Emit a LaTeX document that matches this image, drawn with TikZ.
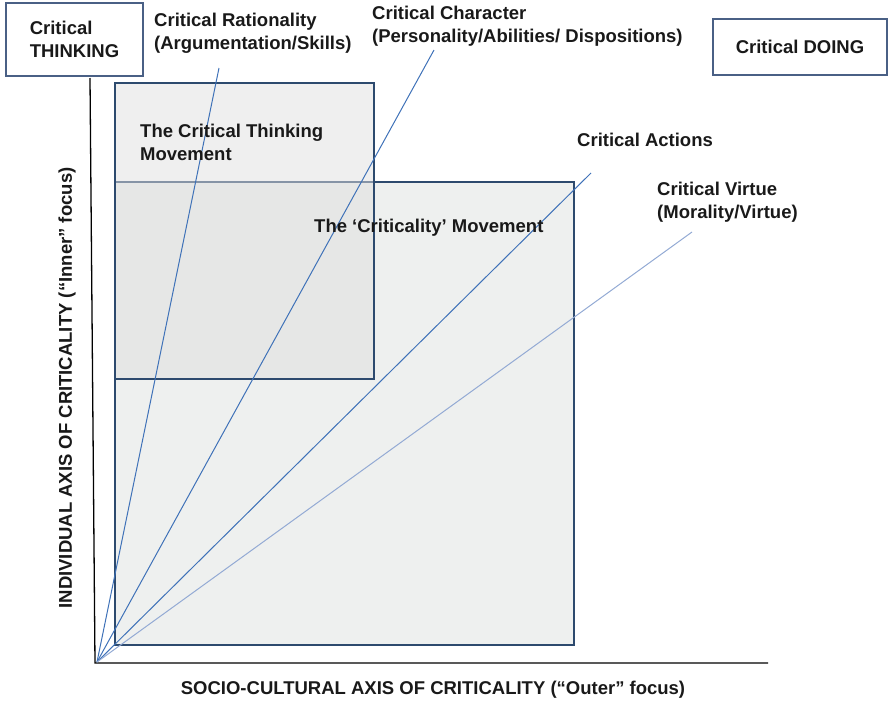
\documentclass[tikz,border=0pt]{standalone}
\usepackage{fontspec}
\setmainfont{Liberation Sans}
\usetikzlibrary{positioning}
\definecolor{navy}{HTML}{2D4A6E}
\definecolor{raycol}{HTML}{3F72B8}
\definecolor{virtcol}{HTML}{93AAD4}
\definecolor{boxfill}{HTML}{EEF0EF}
\definecolor{frame}{HTML}{4A6085}
\newcommand\lblfont[0]{\fontsize{18.5}{22.5}\selectfont\bfseries}

\tikzset{
  lbl/.style={inner sep=0pt, align=left, font=\lblfont, text=black!90},
  ray/.style={raycol, line width=1pt},
  movebox/.style={navy, line width=2.5pt},
  topbox/.style={draw=frame, line width=1.3pt, align=left, font=\lblfont, text=black!90, inner sep=0pt}
}

\begin{document}
\begin{tikzpicture}[x=1pt,y=-1pt]
\useasboundingbox (0,0) rectangle (888,702);

\coordinate (ytop) at (90,78);
\coordinate (O) at (95,663);
\coordinate (xend) at (768,663);
\coordinate (src) at (97,662);

% the two movements
\draw[movebox, fill=boxfill] (115,182) rectangle (574,645);
\draw[movebox, fill=black!12.5, fill opacity=0.5] (115,83) rectangle (374,379);

% axes
\draw[black, line width=1.3pt] (ytop) -- (O) -- (xend);

% rays
\coordinate (rat) at (219,68);
\coordinate (char) at (434,50);
\coordinate (act) at (591,173);
\coordinate (virt) at (692,232);
\draw[ray] (src) -- (rat);
\draw[ray] (src) -- (char);
\draw[ray] (src) -- (act);
\draw[ray, virtcol] (src) -- (virt);

\node[topbox, minimum width=137pt, minimum height=73pt] (think) at (74.5,39.5) {Critical\\THINKING};
\node[topbox, minimum width=174pt, minimum height=56pt] (doing) at (800,47) {Critical DOING};

\node[lbl, anchor=west] (ratlbl) at (154,33.5) {Critical Rationality\\(Argumentation/Skills)};
\node[lbl, anchor=west] (charlbl) at (372,26) {Critical Character\\(Personality/Abilities/ Dispositions)};
\node[lbl, anchor=west] (actlbl) at (577,140) {Critical Actions};
\node[lbl, anchor=west] (virtlbl) at (657,202) {Critical Virtue\\(Morality/Virtue)};
\node[lbl, anchor=west] (ctm) at (140,142.5) {The Critical Thinking\\Movement};
\node[lbl, anchor=west] (crm) at (314,228) {The ‘Criticality’ Movement};

\node[lbl] (xlbl) at (433,690) {SOCIO-CULTURAL AXIS OF CRITICALITY (“Outer” focus)};
\node[lbl, rotate=90] (ylbl) at (67,388) {INDIVIDUAL AXIS OF CRITICALITY (“Inner” focus)};
\end{tikzpicture}
\end{document}
